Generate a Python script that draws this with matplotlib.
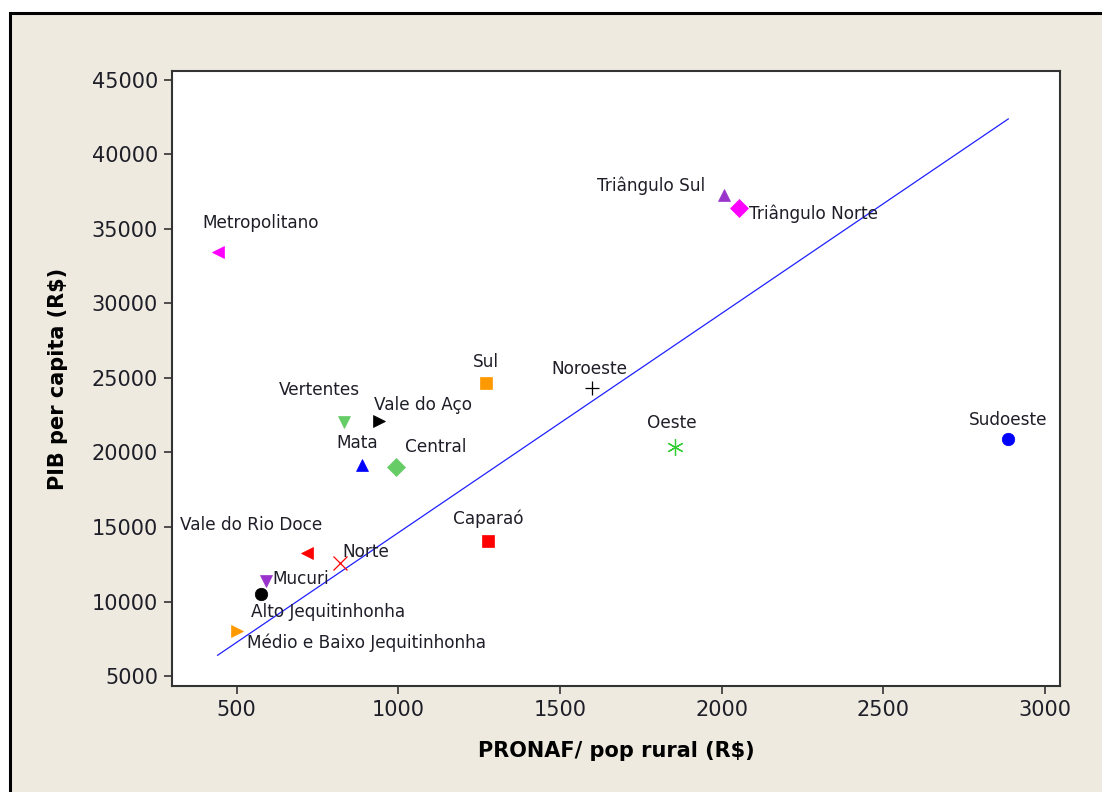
import matplotlib.pyplot as plt
from matplotlib.patches import Rectangle

# Data
regions = ["Metropolitano", "Triângulo Sul", "Triângulo Norte", "Sul", "Noroeste",
           "Vertentes", "Vale do Aço", "Oeste", "Sudoeste", "Mata", "Central",
           "Caparaó", "Vale do Rio Doce", "Norte", "Mucuri", "Alto Jequitinhonha",
           "Médio e Baixo Jequitinhonha"]
pronaf = [441, 2006, 2052, 1272, 1599, 833, 941, 1855, 2886, 889, 994,
          1278, 719, 818, 590, 574, 500]
pib = [33450, 37280, 36410, 24660, 24330, 22050, 22110, 20370, 20910, 19160, 19030,
       14060, 13250, 12580, 11380, 10500, 8020]

# fitted line shown on the chart
fit_slope = 14.72
fit_intercept = -100

# marker, colour and label placement (offset in pixels, alignment)
styles = {
    "Metropolitano": ("<", "#FF00FF", (-15, 29), "left"),
    "Triângulo Sul": ("^", "#9933CC", (-18, 9), "right"),
    "Triângulo Norte": ("D", "#FF00FF", (10, -6), "left"),
    "Sul": ("s", "#FF9900", (0, 21), "center"),
    "Noroeste": ("+", "black", (-3, 19), "center"),
    "Vertentes": ("v", "#66CC66", (-25, 32), "center"),
    "Vale do Aço": (">", "black", (-5, 16), "left"),
    "Oeste": ((6, 2, 0), "#33CC33", (-3, 24), "center"),
    "Sudoeste": ("o", "#0000FF", (0, 19), "center"),
    "Mata": ("^", "#0000FF", (-5, 22), "center"),
    "Central": ("D", "#66CC66", (9, 20), "left"),
    "Caparaó": ("s", "#FF0000", (0, 22), "center"),
    "Vale do Rio Doce": ("<", "#FF0000", (-56, 28), "center"),
    "Norte": ("x", "#FF0000", (3, 11), "left"),
    "Mucuri": ("v", "#9933CC", (7, 2), "left"),
    "Alto Jequitinhonha": ("o", "black", (-10, -18), "left"),
    "Médio e Baixo Jequitinhonha": (">", "#FF9900", (10, -12), "left"),
}

plt.rcParams['font.family'] = ['DejaVu Sans']

fig = plt.figure(figsize=(11.02, 7.92), dpi=100, facecolor="white")
fig.patches.append(Rectangle((9.5 / 1102, -0.1), 1.2, 1 - 13 / 792 + 0.1,
                             transform=fig.transFigure, facecolor="#EEEAE0",
                             edgecolor="black", linewidth=2.2, zorder=-10))

ax = fig.add_axes([172 / 1102, 1 - 686 / 792, 888 / 1102, 615 / 792])
ax.set_facecolor("white")

for name, x, y in zip(regions, pronaf, pib):
    m, c, off, ha = styles[name]
    thin = m in ("+", "x") or isinstance(m, tuple)
    ax.plot(x, y, linestyle="none", marker=m, color=c,
            markersize=10 if m in ("+", "x") else (12 if thin else 9),
            markeredgewidth=0.9 if thin else 0.5, zorder=3)
    ax.annotate(name, xy=(x, y), xytext=off, textcoords="offset pixels",
                ha=ha, va="center", fontsize=12.2, color="#1E1E28", zorder=4)

xmin, xmax = min(pronaf), max(pronaf)
ax.plot([xmin, xmax], [fit_intercept + fit_slope * xmin, fit_intercept + fit_slope * xmax],
        color="#2020FF", linewidth=0.9, zorder=2)

ax.set_xlim(300, 3046)
ax.set_ylim(4330, 45600)
ax.set_xticks([500, 1000, 1500, 2000, 2500, 3000])
ax.set_yticks(range(5000, 45001, 5000))
ax.tick_params(direction="out", length=6, width=1.2, color="#333333",
               labelsize=15, labelcolor="#1E1E28", pad=4)
for s in ax.spines.values():
    s.set_color("#333333")
    s.set_linewidth(1.5)

ax.set_xlabel("PRONAF/ pop rural (R$)", fontsize=15, fontweight="bold", labelpad=15)
ax.set_ylabel("PIB per capita (R$)", fontsize=15, fontweight="bold", labelpad=17)

fig.savefig("out.png", dpi=100, facecolor=fig.get_facecolor())
